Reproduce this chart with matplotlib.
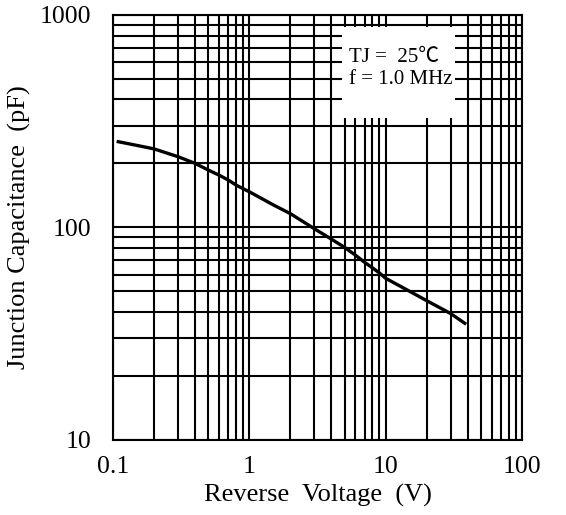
import matplotlib.pyplot as plt
from matplotlib.patches import Rectangle

# values
volts = [0.106, 0.15, 0.2, 0.3, 0.4, 0.5, 0.6, 0.7, 0.8, 0.9, 1, 1.5, 2, 3, 4, 5, 6, 7, 8, 9, 10, 15, 20, 30, 39]
cap_pf = [254, 243, 234, 215, 200, 186, 176, 167, 158, 152, 147, 127.5, 116, 98.5, 88, 80.5, 74, 68.5, 64.5, 61, 57.6, 50, 45.2, 39.3, 35]

xticks = [0.1, 1, 10, 100]
xlabels = ['0.1', '1', '10', '100']
yticks = [10, 100, 1000]
ylabels = ['10', '100', '1000']

plt.rcParams['font.family'] = ['Liberation Serif', 'Noto Sans CJK SC', 'DejaVu Sans']

fig = plt.figure(figsize=(5.66, 5.15), dpi=100)
ax = fig.add_axes([0.2, 0.146, 0.722, 0.825])
ax.set_xscale('log')
ax.set_yscale('log')
ax.set_xlim(0.1, 100)
ax.set_ylim(10, 1000)

ax.grid(True, which='both', color='black', lw=1.5)
ax.set_axisbelow(True)
for s in ax.spines.values():
    s.set_linewidth(1.5)

ax.set_xticks(xticks)
ax.set_xticklabels(xlabels)
ax.set_yticks(yticks)
ax.set_yticklabels(ylabels)
ax.tick_params(which='both', length=0, labelsize=18.5)
ax.tick_params(axis='x', pad=12)
ax.tick_params(axis='y', pad=16)

ax.plot(volts, cap_pf, color='black', lw=2.4, solid_capstyle='butt', zorder=3)

# white box behind the conditions text
ax.add_patch(Rectangle((0.561, 0.758), 0.275, 0.214, transform=ax.transAxes,
                       facecolor='white', edgecolor='none', zorder=2))
ax.text(0.577, 0.90, 'TJ =  25\u2103', transform=ax.transAxes, fontsize=15,
        va='center', ha='left', zorder=4)
ax.text(0.577, 0.847, 'f = 1.0 MHz', transform=ax.transAxes, fontsize=15,
        va='center', ha='left', zorder=4)

ax.set_xlabel('Reverse  Voltage  (V)', fontsize=19, labelpad=4)
ax.set_ylabel('Junction Capacitance  (pF)', fontsize=19, labelpad=6)

fig.savefig('out.png', dpi=100)
